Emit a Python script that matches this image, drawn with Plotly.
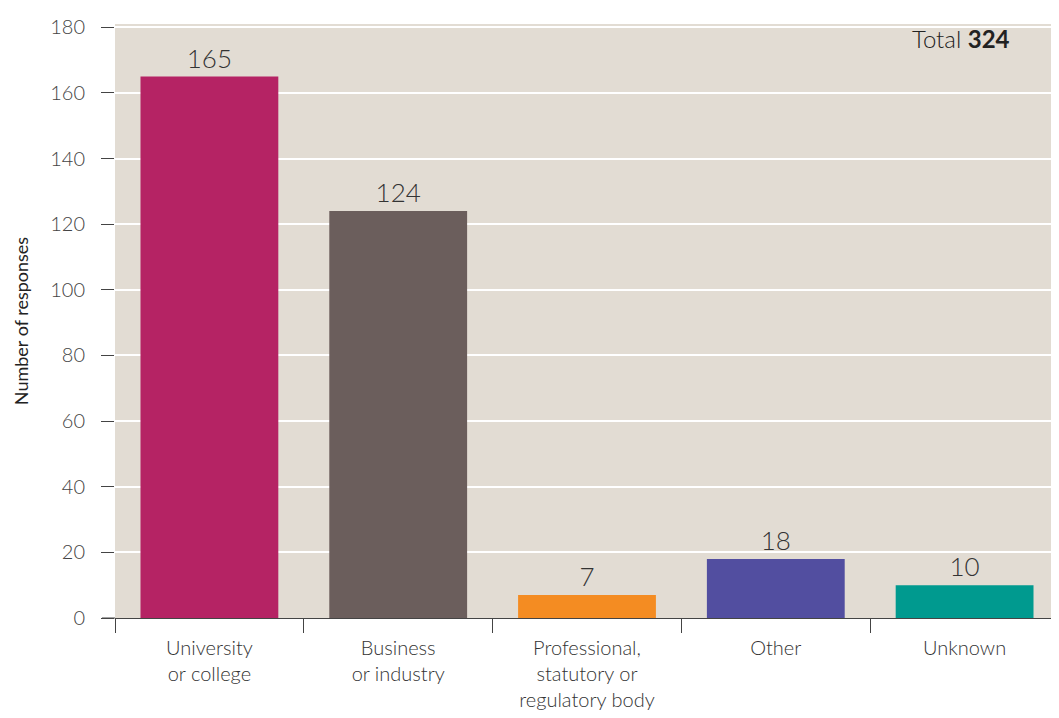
import plotly.graph_objects as go

categories = ["University<br>or college", "Business<br>or industry",
              "Professional,<br>statutory or<br>regulatory body", "Other", "Unknown"]
values = [165, 124, 7, 18, 10]
colors = ["#b52364", "#6b5e5c", "#f48c22", "#524ea0", "#009a8f"]
total = 324
y_ticks = [0, 20, 40, 60, 80, 100, 120, 140, 160, 180]

FONT = "Lato Light, Lato"

fig = go.Figure(go.Bar(
    x=categories, y=values,
    marker=dict(color=colors, line=dict(width=0)),
    width=0.73,
    text=[str(v) for v in values],
    textposition="outside",
    textfont=dict(family=FONT, size=26, color="#333333", weight=300),
    cliponaxis=False,
))

fig.update_layout(
    width=1051, height=710,
    margin=dict(l=107, r=0, t=16, b=100, autoexpand=False),
    paper_bgcolor="white",
    plot_bgcolor="#e2dcd3",
    showlegend=False,
    font=dict(family=FONT, color="#333333", weight=300),
    annotations=[dict(
        text=f"Total <span style='font-family:Lato;font-weight:bold'>{total}</span>",
        xref="paper", yref="paper",
        x=0.95, y=0.975, xanchor="right", yanchor="middle",
        showarrow=False, font=dict(family=FONT, size=24, color="#222222", weight=300),
    )],
    shapes=[dict(type="line", xref="paper", yref="paper", x0=-0.0138, x1=0, y0=0, y1=0,
                 line=dict(color="#444444", width=1))],
)

fig.update_yaxes(
    range=[0, 181], tickvals=y_ticks, ticktext=[str(t) for t in y_ticks],
    showgrid=True, gridcolor="white", gridwidth=2,
    ticks="outside", ticklen=13, tickcolor="#444444", tickwidth=1,
    ticklabelstandoff=12,
    tickfont=dict(family=FONT, size=20, color="#444444", weight=300),
    showline=False, zeroline=False,
    title=dict(text="Number of responses", font=dict(family="Lato", size=18, color="#222222", weight=400), standoff=16),
)

fig.update_xaxes(
    tickson="boundaries", ticks="outside", ticklen=14, tickcolor="#444444", tickwidth=1,
    ticklabelstandoff=12,
    showline=True, linecolor="#444444", linewidth=1,
    tickfont=dict(family=FONT, size=20, color="#333333", weight=300),
    showgrid=False,
)

fig.write_html("out.html")
